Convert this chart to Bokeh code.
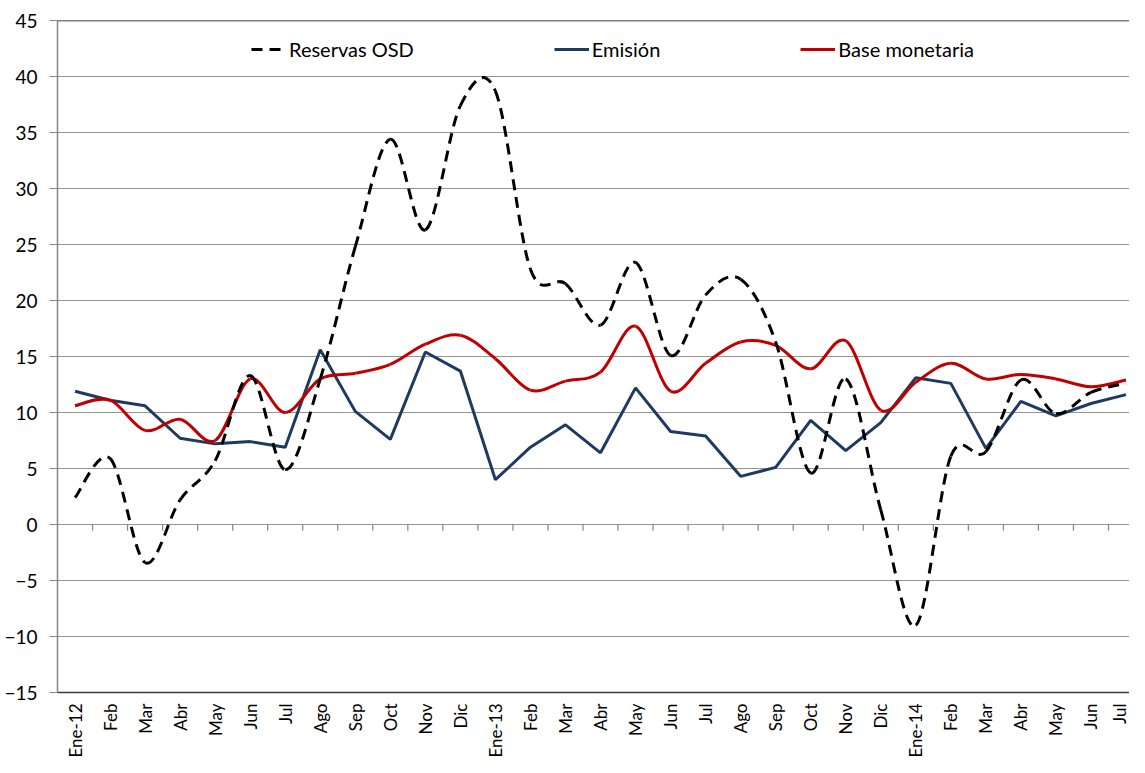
from bokeh.plotting import figure
from bokeh.models import (ColumnDataSource, FixedTicker, Span, Legend, LegendItem, Range1d)
from bokeh.embed import file_html
from bokeh.resources import INLINE

categories = ["Ene-12", "Feb", "Mar", "Abr", "May", "Jun", "Jul", "Ago", "Sep", "Oct", "Nov", "Dic",
              "Ene-13", "Feb", "Mar", "Abr", "May", "Jun", "Jul", "Ago", "Sep", "Oct", "Nov", "Dic",
              "Ene-14", "Feb", "Mar", "Abr", "May", "Jun", "Jul"]

reservas_osd = [2.4, 5.9, -3.4, 2.2, 5.7, 13.3, 4.9, 13.0, 24.8, 34.4, 26.3, 37.4,
                38.7, 22.8, 21.5, 17.8, 23.4, 15.1, 20.5, 21.9, 16.3, 4.6, 13.0, 1.3,
                -9.0, 6.1, 6.5, 12.9, 9.9, 11.8, 12.6]

emision = [11.9, 11.1, 10.6, 7.7, 7.2, 7.4, 6.9, 15.6, 10.1, 7.6, 15.4, 13.7,
           4.0, 6.9, 8.9, 6.4, 12.2, 8.3, 7.9, 4.3, 5.1, 9.3, 6.6, 9.1,
           13.1, 12.6, 6.8, 11.0, 9.7, 10.8, 11.6]

base_monetaria = [10.6, 11.1, 8.4, 9.4, 7.5, 13.0, 10.0, 13.0, 13.5, 14.3, 16.1, 16.9,
                  14.8, 12.0, 12.8, 13.6, 17.7, 11.9, 14.4, 16.3, 16.0, 13.9, 16.4, 10.2,
                  12.7, 14.4, 13.0, 13.4, 13.0, 12.3, 12.9]

y_ticks = [-15, -10, -5, 0, 5, 10, 15, 20, 25, 30, 35, 40, 45]

FONT = "Lato"
xs = list(range(len(categories)))


def bezier_source(vals):
    n = len(vals)
    d = dict(x0=[], y0=[], x1=[], y1=[], cx0=[], cy0=[], cx1=[], cy1=[])
    for i in range(n - 1):
        p0 = (xs[max(i - 1, 0)], vals[max(i - 1, 0)])
        p1 = (xs[i], vals[i])
        p2 = (xs[i + 1], vals[i + 1])
        p3 = (xs[min(i + 2, n - 1)], vals[min(i + 2, n - 1)])
        d["x0"].append(p1[0]); d["y0"].append(p1[1])
        d["x1"].append(p2[0]); d["y1"].append(p2[1])
        d["cx0"].append(p1[0] + (p2[0] - p0[0]) / 6.0)
        d["cy0"].append(p1[1] + (p2[1] - p0[1]) / 6.0)
        d["cx1"].append(p2[0] - (p3[0] - p1[0]) / 6.0)
        d["cy1"].append(p2[1] - (p3[1] - p1[1]) / 6.0)
    return ColumnDataSource(d)


p = figure(width=1129, height=760, output_backend="svg", toolbar_location=None,
           x_range=Range1d(-0.5, 30.1), y_range=Range1d(-15, 45),
           min_border_left=57, min_border_right=0, min_border_top=20, min_border_bottom=60)
p.outline_line_color = None
p.background_fill_color = "white"
p.border_fill_color = "white"

# grid
p.xgrid.grid_line_color = None
p.ygrid.grid_line_color = "#959595"
p.ygrid.grid_line_width = 1
p.yaxis.ticker = FixedTicker(ticks=y_ticks)

# y axis
p.yaxis.axis_line_color = "#868686"
p.yaxis.axis_line_width = 1.5
p.yaxis.major_tick_line_color = "#868686"
p.yaxis.major_tick_out = 8
p.yaxis.major_tick_in = 0
p.yaxis.minor_tick_line_color = None
p.yaxis.major_label_standoff = 12
p.yaxis.major_label_text_font = FONT
p.yaxis.major_label_text_font_size = "19px"
p.yaxis.major_label_text_color = "black"

# x axis
p.xaxis.ticker = FixedTicker(ticks=xs)
p.xaxis.major_label_overrides = {i: c for i, c in enumerate(categories)}
p.xaxis.major_label_orientation = 1.5707963
p.xaxis.major_tick_line_color = None
p.xaxis.minor_tick_line_color = None
p.xaxis.axis_line_color = "#3a3a3a"
p.xaxis.axis_line_width = 1.5
p.xaxis.major_label_standoff = 5
p.xaxis.major_label_text_font = FONT
p.xaxis.major_label_text_font_size = "17px"
p.xaxis.major_label_text_color = "black"

# top border
p.add_layout(Span(location=45, dimension="width", line_color="black", line_width=1.5))

# category tick marks on the zero line
tick_x = [i + 0.5 for i in xs]
p.segment(x0=tick_x, y0=[0] * len(tick_x), x1=tick_x, y1=[-0.55] * len(tick_x),
          line_color="#868686", line_width=1.2)

# series
r_em = p.line(xs, emision, line_color="#1F3A60", line_width=3)
r_base = p.bezier(x0="x0", y0="y0", x1="x1", y1="y1", cx0="cx0", cy0="cy0", cx1="cx1", cy1="cy1",
                  source=bezier_source(base_monetaria), line_color="#C00000", line_width=3)
r_res = p.bezier(x0="x0", y0="y0", x1="x1", y1="y1", cx0="cx0", cy0="cy0", cx1="cx1", cy1="cy1",
                 source=bezier_source(reservas_osd), line_color="black", line_width=3,
                 line_dash="11 7")

legend = Legend(items=[LegendItem(label="Reservas OSD", renderers=[r_res]),
                       LegendItem(label="Emisión", renderers=[r_em]),
                       LegendItem(label="Base monetaria", renderers=[r_base])],
                orientation="horizontal", location=(194, 631), spacing=140,
                padding=0, margin=0, border_line_color=None, background_fill_alpha=0,
                glyph_width=35, glyph_height=20, label_height=20, label_standoff=3,
                label_text_font=FONT, label_text_font_size="20px", label_text_color="black")
p.add_layout(legend, "center")

open("out.html", "w").write(file_html(p, INLINE))
